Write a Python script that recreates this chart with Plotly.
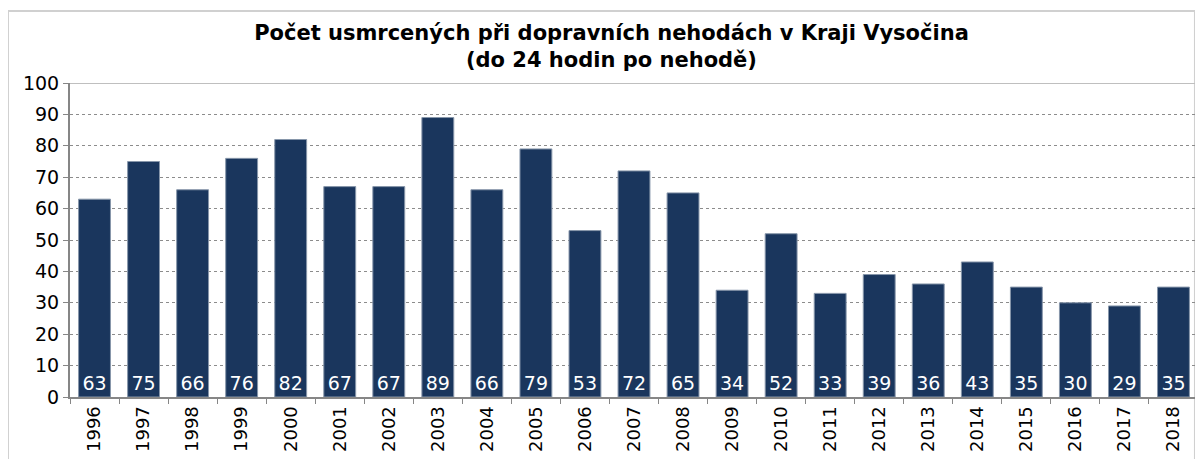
import plotly.graph_objects as go

years = [str(y) for y in range(1996, 2019)]
deaths = [63, 75, 66, 76, 82, 67, 67, 89, 66, 79, 53, 72, 65, 34, 52, 33, 39, 36, 43, 35, 30, 29, 35]

title_text = "Počet usmrcených při dopravních nehodách v Kraji Vysočina<br>(do 24 hodin po nehodě)"

font_family = "DejaVu Sans"

fig = go.Figure()

fig.add_trace(go.Bar(
    x=years,
    y=deaths,
    text=[str(v) for v in deaths],
    textposition='inside',
    insidetextanchor='start',
    textangle=0,
    constraintext='none',
    textfont=dict(color='#FFFFFF', size=19, family=font_family),
    marker=dict(color='#1A365D', line=dict(color='#8796AA', width=1)),
    hoverinfo='x+y',
))

# page body has an 8px margin, so the figure is sized to fit inside the window
fig.update_layout(
    width=1195,
    height=451,
    paper_bgcolor='#FFFFFF',
    plot_bgcolor='#FFFFFF',
    font=dict(family=font_family, color='#000000'),
    title=dict(
        text=title_text,
        x=0.505,
        xanchor='center',
        y=0.929,
        yanchor='middle',
        font=dict(size=21, family=font_family, weight='bold', color='#000000'),
    ),
    bargap=0.35,
    showlegend=False,
    margin=dict(l=62, r=5, t=75, b=62),
    xaxis=dict(
        type='category',
        automargin=False,
        tickangle=-90,
        tickfont=dict(size=18, family=font_family),
        showline=True,
        linecolor='#868686',
        linewidth=2,
        ticks='outside',
        ticklen=5,
        tickcolor='#868686',
        tickson='boundaries',
        showgrid=False,
    ),
    yaxis=dict(
        range=[0, 100],
        dtick=10,
        automargin=False,
        tickfont=dict(size=19, family=font_family),
        showline=True,
        linecolor='#868686',
        linewidth=2,
        ticks='outside',
        ticklen=5,
        tickcolor='#868686',
        showgrid=True,
        gridcolor='#8C8C8C',
        griddash='dot',
        gridwidth=1,
        zeroline=False,
    ),
)

# top border of plot area (solid)
fig.add_shape(type='line', xref='paper', yref='y', x0=0, x1=1, y0=100, y1=100,
              line=dict(color='#BFBFBF', width=2))

# chart frame
fig.add_shape(type='rect', xref='paper', yref='paper',
              x0=-0.055, x1=0.9973, y0=-0.3, y1=1.229,
              line=dict(color='#D0D0D0', width=2), layer='below')

fig.write_html("out.html")
